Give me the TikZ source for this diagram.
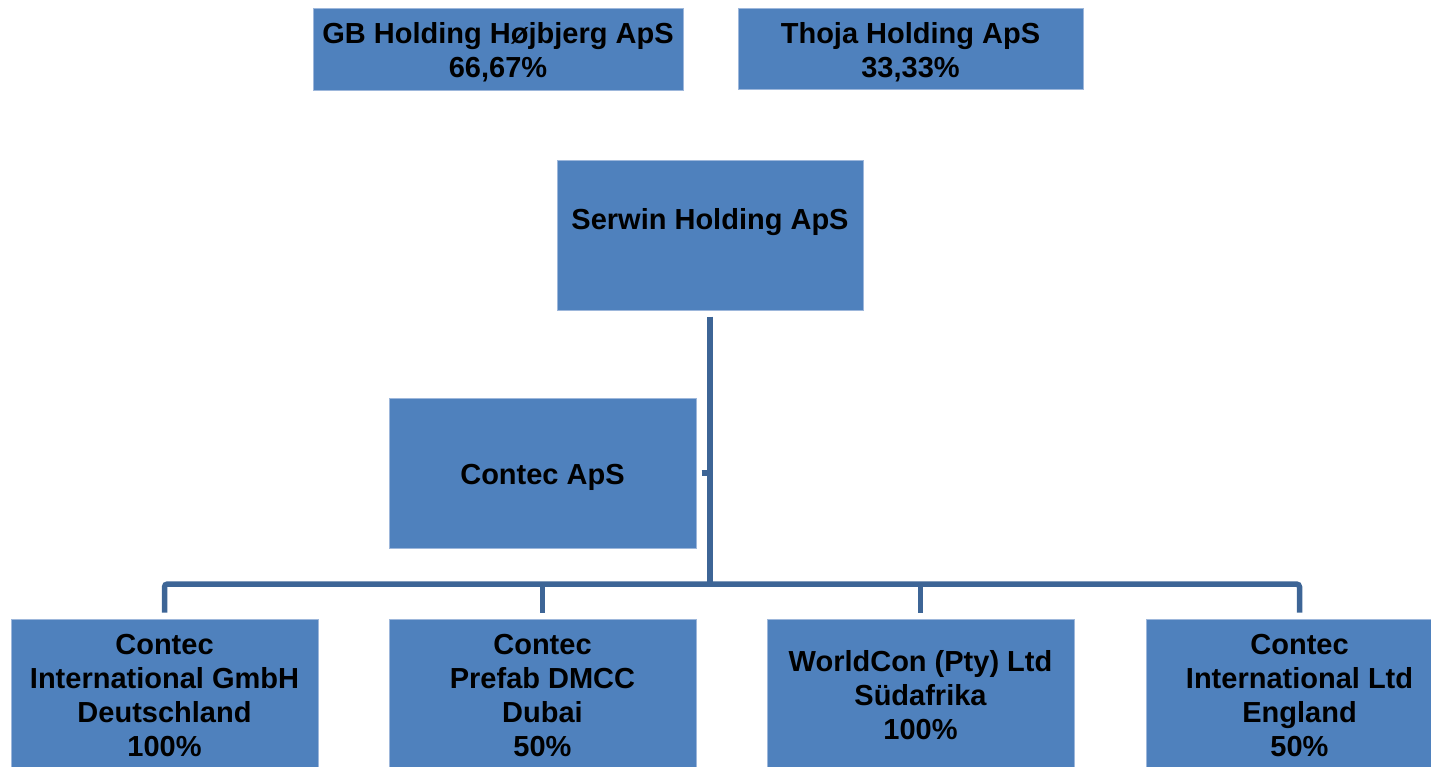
\documentclass[tikz,border=0pt]{standalone}
\usepackage{fontspec}
\setmainfont{Liberation Sans}
\definecolor{boxfill}{HTML}{4F81BD}
\definecolor{boxedge}{HTML}{9DB7DB}
\definecolor{linkcol}{HTML}{3D6596}
\newcommand\orgtop{\rule{0pt}{30pt}}
\newcommand\orgbot{\rule[-7pt]{0pt}{7pt}}
\begin{document}
\begin{tikzpicture}[x=1pt,y=-1pt,
  orgbox/.style={draw=boxedge, line width=1pt, fill=boxfill, inner sep=0pt,
    align=center, font=\fontsize{29}{34}\selectfont\bfseries},
  link/.style={draw=linkcol, line width=5.5pt}]
\useasboundingbox (0,0) rectangle (1431,766);
\clip (0,0) rectangle (1431,766);
\node[orgbox, minimum width=370pt, minimum height=82pt] (gb) at (498,49) {\orgtop GB Holding Højbjerg ApS\\66,67\%\orgbot};
\node[orgbox, minimum width=345pt, minimum height=81pt] (thoja) at (910.5,48.5) {\orgtop Thoja Holding ApS\\33,33\%\orgbot};
\node[orgbox, minimum width=306pt, minimum height=150pt] (serwin) at (710,235) {\orgtop Serwin Holding ApS\\\orgbot};
\node[orgbox, minimum width=307pt, minimum height=150pt] (contec) at (542.5,473) {\orgtop Contec ApS\orgbot};
\node[orgbox, minimum width=307pt, minimum height=150pt] (d1) at (164.5,694) {\orgtop Contec\\International GmbH\\Deutschland\\100\%\orgbot};
\node[orgbox, minimum width=307pt, minimum height=150pt] (d2) at (542.5,694) {\orgtop Contec\\Prefab DMCC\\Dubai\\50\%\orgbot};
\node[orgbox, minimum width=307pt, minimum height=150pt] (d3) at (920.5,694) {\orgtop WorldCon (Pty) Ltd\\Südafrika\\100\%\orgbot};
\node[orgbox, minimum width=307pt, minimum height=150pt] (d4) at (1299.5,694) {\orgtop Contec\\International Ltd\\England\\50\%\orgbot};
\coordinate (bus) at (710,584);
\draw[link] ([yshift=-6pt]serwin.south) -- (bus);
\draw[link, rounded corners=3pt] ([yshift=6pt]d1.north) |- (bus) -| ([yshift=6pt]d4.north);
\draw[link] (bus -| d2.north) -- ([yshift=6pt]d2.north);
\draw[link] (bus -| d3.north) -- ([yshift=6pt]d3.north);
\draw[link] ([xshift=5pt]contec.east) -- (contec.east -| bus);
\end{tikzpicture}
\end{document}
